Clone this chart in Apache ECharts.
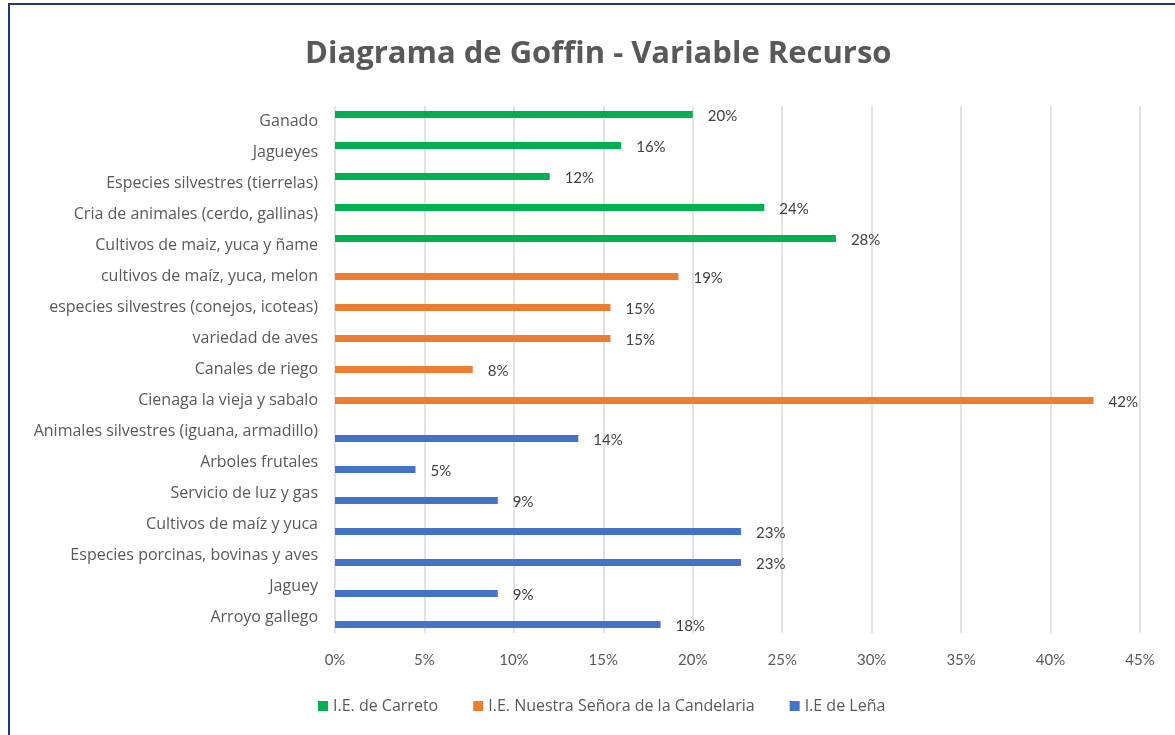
<!DOCTYPE html>
<html>
<head>
<meta charset="utf-8">
<script src="https://cdn.jsdelivr.net/npm/echarts@6/dist/echarts.min.js"></script>
<style>
  html, body { margin: 0; padding: 0; background: #fff; }
  #frame {
    position: absolute; left: 8px; top: 3px; width: 1180px; height: 740px;
    border: 2px solid #1f3a70; box-sizing: border-box;
  }
  #chart { position: absolute; left: 0; top: 0; width: 1175px; height: 735px; }
</style>
</head>
<body>
<div id="frame"></div>
<div id="chart"></div>
<script>
// categories, top to bottom
const categories = [
  'Ganado', 'Jagueyes', 'Especies silvestres (tierrelas)',
  'Cria de animales (cerdo, gallinas)', 'Cultivos de maiz, yuca y ñame',
  'cultivos de maíz, yuca, melon', 'especies silvestres (conejos, icoteas)',
  'variedad de aves', 'Canales de riego', 'Cienaga la vieja y sabalo',
  'Animales silvestres (iguana, armadillo)', 'Arboles frutales',
  'Servicio de luz y gas', 'Cultivos de maíz y yuca',
  'Especies porcinas, bovinas y aves', 'Jaguey', 'Arroyo gallego'
];
const seriesNames = ['I.E. de Carreto', 'I.E. Nuestra Señora de la Candelaria', 'I.E de Leña'];
const carreto = [0.20, 0.16, 0.12, 0.24, 0.28, null, null, null, null, null, null, null, null, null, null, null, null];
const candelaria = [null, null, null, null, null, 0.192, 0.154, 0.154, 0.077, 0.424, null, null, null, null, null, null, null];
const lena = [null, null, null, null, null, null, null, null, null, null, 0.136, 0.045, 0.091, 0.227, 0.227, 0.091, 0.182];
const colors = ['#00B050', '#ED7D31', '#4472C4'];

const font = 'Lato, "Open Sans", sans-serif';
const textFont = '"Open Sans", Lato, sans-serif';
const chart = echarts.init(document.getElementById('chart'));

const mk = (name, data, color) => ({
  name, type: 'bar', data, barWidth: 7, barGap: '0%',
  itemStyle: { color },
  label: {
    show: true, position: 'right', distance: 15, offset: [0, 2],
    color: '#404040', fontFamily: font, fontSize: 15,
    formatter: p => Math.round(p.value * 100) + '%'
  }
});

chart.setOption({
  animation: false,
  title: {
    text: 'Diagrama de Goffin - Variable Recurso',
    left: 300, top: 34,
    textStyle: { fontFamily: textFont, fontSize: 31, fontWeight: 'bold', color: '#595959' }
  },
  legend: {
    bottom: 16, left: 313, itemWidth: 10, itemHeight: 10, itemGap: 35,
    icon: 'rect',
    textStyle: { fontFamily: textFont, fontSize: 16, color: '#595959' },
    data: seriesNames
  },
  grid: { left: 335, right: 35, top: 106, bottom: 102 },
  xAxis: {
    type: 'value', min: 0, max: 0.45, interval: 0.05,
    axisLine: { show: false }, axisTick: { show: false },
    splitLine: { lineStyle: { color: '#d9d9d9', width: 1.5 } },
    axisLabel: {
      margin: 20, color: '#595959', fontFamily: font, fontSize: 15,
      formatter: v => Math.round(v * 100) + '%'
    }
  },
  yAxis: {
    type: 'category', data: categories, inverse: true,
    axisLine: { show: false }, axisTick: { show: false },
    axisLabel: { margin: 17, color: '#595959', fontFamily: textFont, fontSize: 16 }
  },
  series: [
    mk(seriesNames[0], carreto, colors[0]),
    mk(seriesNames[1], candelaria, colors[1]),
    mk(seriesNames[2], lena, colors[2])
  ]
});
</script>
</body>
</html>
